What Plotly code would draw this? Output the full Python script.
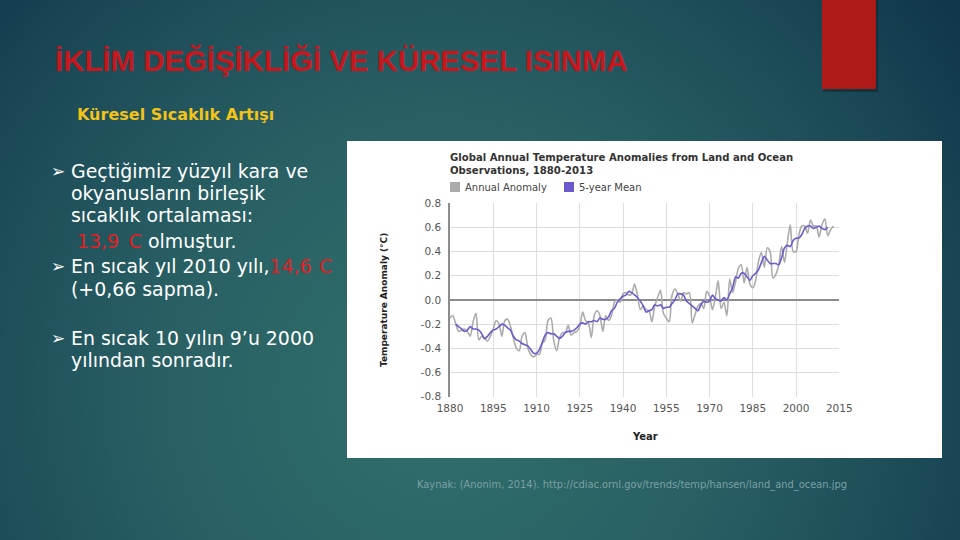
import base64
import plotly.graph_objects as go

# ---------------- data ----------------
years = list(range(1880, 2014))
annual_anomaly = [
    -0.15, -0.13, -0.20, -0.26, -0.25, -0.24, -0.26, -0.30, -0.18, -0.11,
    -0.33, -0.30, -0.32, -0.34, -0.30, -0.24, -0.17, -0.20, -0.30, -0.17,
    -0.16, -0.22, -0.32, -0.40, -0.42, -0.30, -0.27, -0.40, -0.45, -0.47,
    -0.45, -0.45, -0.36, -0.33, -0.17, -0.15, -0.34, -0.42, -0.31, -0.27,
    -0.27, -0.21, -0.29, -0.27, -0.26, -0.22, -0.10, -0.17, -0.19, -0.31,
    -0.13, -0.09, -0.13, -0.26, -0.13, -0.17, -0.13, -0.02, 0.00, -0.02,
    0.05, 0.06, 0.04, 0.05, 0.13, 0.04, -0.08, -0.05, -0.08, -0.09,
    -0.18, -0.05, 0.02, 0.08, -0.11, -0.15, -0.18, 0.04, 0.09, 0.05,
    -0.01, 0.06, 0.05, 0.06, -0.19, -0.12, -0.05, -0.03, -0.07, 0.07,
    0.03, -0.08, 0.02, 0.16, -0.07, -0.02, -0.13, 0.17, 0.06, 0.15,
    0.26, 0.29, 0.14, 0.27, 0.13, 0.10, 0.16, 0.32, 0.39, 0.27,
    0.43, 0.40, 0.18, 0.21, 0.29, 0.44, 0.31, 0.48, 0.62, 0.40,
    0.40, 0.54, 0.61, 0.61, 0.55, 0.66, 0.61, 0.61, 0.52, 0.62,
    0.67, 0.53, 0.58, 0.61,
]
mean_years = list(range(1882, 2012))
five_year_mean = [
    -0.20, -0.22, -0.24, -0.26, -0.25, -0.22, -0.24, -0.24,
    -0.25, -0.28, -0.32, -0.30, -0.27, -0.25, -0.24, -0.22, -0.20, -0.21,
    -0.23, -0.25, -0.30, -0.33, -0.34, -0.36, -0.37, -0.38, -0.41, -0.44,
    -0.44, -0.41, -0.35, -0.29, -0.27, -0.28, -0.28, -0.30, -0.32, -0.30,
    -0.27, -0.26, -0.26, -0.25, -0.23, -0.20, -0.19, -0.20, -0.18, -0.18,
    -0.17, -0.18, -0.15, -0.16, -0.16, -0.14, -0.09, -0.07, -0.02, 0.01,
    0.03, 0.04, 0.07, 0.06, 0.04, 0.02, -0.01, -0.05, -0.10, -0.09,
    -0.08, -0.04, -0.05, -0.04, -0.07, -0.06, -0.06, -0.03, 0.00, 0.05,
    0.05, 0.04, -0.01, -0.03, -0.05, -0.07, -0.09, -0.04, -0.01, -0.02,
    -0.01, 0.04, 0.01, 0.00, -0.01, 0.02, 0.00, 0.05, 0.10, 0.19,
    0.18, 0.22, 0.22, 0.19, 0.16, 0.20, 0.22, 0.25, 0.31, 0.36,
    0.33, 0.30, 0.30, 0.30, 0.29, 0.35, 0.43, 0.45, 0.44, 0.49,
    0.51, 0.51, 0.54, 0.59, 0.61, 0.61, 0.59, 0.60, 0.61, 0.59,
    0.58, 0.60,
]
x_tick_vals = [1880, 1895, 1910, 1925, 1940, 1955, 1970, 1985, 2000, 2015]
x_tick_labels = ["1880", "1895", "1910", "1925", "1940", "1955", "1970", "1985", "2000", "2015"]
y_tick_vals = [-0.8, -0.6, -0.4, -0.2, 0.0, 0.2, 0.4, 0.6, 0.8]
y_tick_labels = ["-0.8", "-0.6", "-0.4", "-0.2", "0.0", "0.2", "0.4", "0.6", "0.8"]

chart_title = "Global Annual Temperature Anomalies from Land and Ocean<br>Observations, 1880-2013"
legend_names = ["Annual Anomaly", "5-year Mean"]

# ---------------- helpers ----------------
W, H = 960, 540


def px(x):
    return x / W


def py(y):
    return 1 - y / H


BODY = "DejaVu Sans"
CHART = "DejaVu Sans"
GRAY_LINE = "#ababab"
PURPLE = "#6a5acd"

fig = go.Figure()

fig.add_trace(go.Scatter(
    x=years, y=annual_anomaly, mode="lines", name=legend_names[0],
    line=dict(color=GRAY_LINE, width=1.6, shape="spline", smoothing=0.8),
    hoverinfo="x+y", showlegend=False,
))
fig.add_trace(go.Scatter(
    x=mean_years, y=five_year_mean, mode="lines", name=legend_names[1],
    line=dict(color=PURPLE, width=1.6, shape="spline", smoothing=0.6),
    hoverinfo="x+y", showlegend=False,
))

# background gradient (slide)
svg = """<svg xmlns="http://www.w3.org/2000/svg" width="960" height="540" viewBox="0 0 960 540">
<defs><radialGradient id="g" cx="440" cy="390" r="640" gradientUnits="userSpaceOnUse">
<stop offset="0" stop-color="#31706c"/>
<stop offset="0.45" stop-color="#285f63"/>
<stop offset="0.75" stop-color="#1c4b58"/>
<stop offset="1" stop-color="#10364a"/>
</radialGradient></defs>
<rect width="960" height="540" fill="url(#g)"/></svg>"""
bg_uri = "data:image/svg+xml;base64," + base64.b64encode(svg.encode("utf-8")).decode("ascii")

shapes = [
    # red decorative block (with soft shadow)
    dict(type="rect", xref="paper", yref="paper", x0=px(823), x1=px(878), y0=py(92), y1=py(-2),
         fillcolor="rgba(0,0,0,0.25)", line=dict(width=0), layer="below"),
    dict(type="rect", xref="paper", yref="paper", x0=px(822), x1=px(876), y0=py(89), y1=py(-2),
         fillcolor="#ad1a18", line=dict(width=0), layer="below"),
    # white chart panel
    dict(type="rect", xref="paper", yref="paper", x0=px(347), x1=px(942), y0=py(458), y1=py(141),
         fillcolor="#ffffff", line=dict(width=0), layer="below"),
    # legend swatches
    dict(type="rect", xref="paper", yref="paper", x0=px(450), x1=px(460), y0=py(192), y1=py(182),
         fillcolor="#aaaaaa", line=dict(width=0), layer="above"),
    dict(type="rect", xref="paper", yref="paper", x0=px(564), x1=px(574), y0=py(192), y1=py(182),
         fillcolor=PURPLE, line=dict(width=0), layer="above"),
]

annotations = []


def note(x, y, text, size, color, family=BODY, weight="normal", xanchor="left", angle=0):
    annotations.append(dict(
        x=px(x), y=py(y), xref="paper", yref="paper", text=text, showarrow=False,
        xanchor=xanchor, yanchor="middle", textangle=angle,
        font=dict(family=family, size=size, color=color, weight=weight),
    ))


RED = "#e31e24"
# slide title and subtitle
note(53, 60, "İKLİM DEĞİŞİKLİĞİ VE KÜRESEL ISINMA", 29.4, "#c8161d", family="Liberation Sans", weight="bold")
note(75, 114, "Küresel Sıcaklık Artışı", 16, "#f2c318", weight="bold")

# bullets
for yb in (171, 266, 338):
    note(49, yb, "➢", 17, "#ffffff")
lines = [
    (171, "Geçtiğimiz yüzyıl kara ve"),
    (193, "okyanusların birleşik"),
    (215, "sıcaklık ortalaması:"),
    (241, f"<span style='color:{RED}'>\u00a013,9\u00a0\u2009C</span> olmuştur."),
    (266, f"En sıcak yıl 2010 yılı,<span style='color:{RED}'>14,6\u2009\u2009C</span>"),
    (289, "(+0,66 sapma)."),
    (338, "En sıcak 10 yılın 9’u 2000"),
    (360, "yılından sonradır."),
]
for yl, t in lines:
    note(69, yl, t, 18.9, "#ffffff")

# source
note(415, 485, "Kaynak: (Anonim, 2014). http://cdiac.ornl.gov/trends/temp/hansen/land_and_ocean.jpg",
     9.9, "#7aa0a3")

# chart title, legend, axis titles
annotations.append(dict(
    x=px(448), y=py(164), xref="paper", yref="paper", text="<b>" + chart_title + "</b>",
    showarrow=False, xanchor="left", yanchor="middle", align="left",
    font=dict(family=CHART, size=10.1, color="#333333"),
))
note(463, 187, legend_names[0], 10, "#444444", family=CHART)
note(577, 187, legend_names[1], 10, "#444444", family=CHART)
note(384, 300, "<b>Temperature Anomaly (°C)</b>", 9, "#222222", family=CHART, xanchor="center", angle=-90)
note(645, 436, "<b>Year</b>", 10, "#222222", family=CHART, xanchor="center")

fig.update_layout(
    width=W, height=H,
    margin=dict(l=0, r=0, t=0, b=0, autoexpand=False),
    paper_bgcolor="#1f5059",
    plot_bgcolor="rgba(0,0,0,0)",
    showlegend=False,
    images=[dict(source=bg_uri, xref="paper", yref="paper", x=0, y=1, sizex=1, sizey=1,
                 xanchor="left", yanchor="top", sizing="stretch", layer="below")],
    shapes=shapes,
    annotations=annotations,
    xaxis=dict(
        domain=[px(450), px(839.3)], range=[1880, 2015], automargin=False,
        tickvals=x_tick_vals, ticktext=x_tick_labels,
        showgrid=True, gridcolor="#dedede", gridwidth=1,
        zeroline=False, showline=False, ticks="",
        ticklabelstandoff=4,
        tickfont=dict(family=CHART, size=10.5, color="#555555"),
        fixedrange=True,
    ),
    yaxis=dict(
        domain=[py(396.8), py(203)], range=[-0.8, 0.8], automargin=False,
        tickvals=y_tick_vals, ticktext=y_tick_labels,
        showgrid=True, gridcolor="#dedede", gridwidth=1,
        zeroline=True, zerolinecolor="#8c8c8c", zerolinewidth=1.6,
        showline=True, linecolor="#8c8c8c", linewidth=1.6,
        ticks="", ticklabelstandoff=5,
        tickfont=dict(family=CHART, size=10.5, color="#555555"),
        fixedrange=True,
    ),
)

fig.write_html("out.html")
